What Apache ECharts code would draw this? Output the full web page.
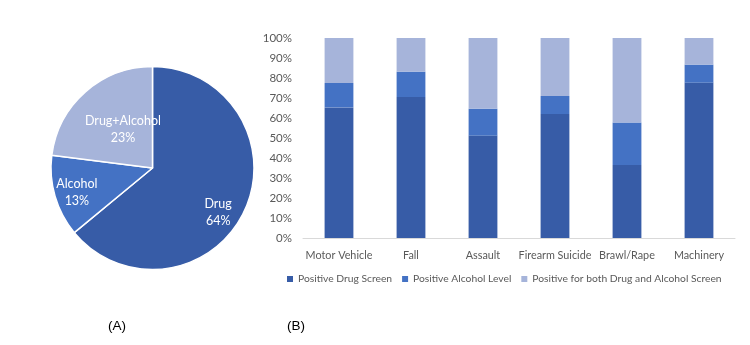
<!DOCTYPE html>
<html><head><meta charset="utf-8">
<script src="https://cdn.jsdelivr.net/npm/echarts@6/dist/echarts.min.js"></script>
<style>html,body{margin:0;padding:0;background:#fff}#c{width:750px;height:345px}</style>
</head><body><div id="c"></div>
<script>
var pieNames = ['Drug', 'Alcohol', 'Drug+Alcohol'];
var pieValues = [64, 13, 23];
var categories = ['Motor Vehicle', 'Fall', 'Assault', 'Firearm Suicide', 'Brawl/Rape', 'Machinery'];
var seriesNames = ['Positive Drug Screen', 'Positive Alcohol Level', 'Positive for both Drug and Alcohol Screen'];
var drugValues = [65.3, 70.5, 51.2, 62.0, 36.5, 77.7];
var alcoholValues = [12.2, 12.7, 13.5, 9.0, 21.3, 9.0];
var bothValues = [22.5, 16.8, 35.3, 29.0, 42.2, 13.3];

var colors = ['#375CA7', '#4472C4', '#A6B4DA'];
var labelOffsets = [[17, 22], [-24, 9], [6, 2]];
var font = 'Lato';

var chart = echarts.init(document.getElementById('c'));
chart.setOption({
  animation: false,
  color: colors,
  title: [
    {text: '(A)', left: 108, top: 319, padding: 0, textStyle: {fontFamily: 'Liberation Sans', fontSize: 13.5, fontWeight: 'normal', color: '#000'}},
    {text: '(B)', left: 287, top: 319, padding: 0, textStyle: {fontFamily: 'Liberation Sans', fontSize: 13.5, fontWeight: 'normal', color: '#000'}}
  ],
  legend: {
    data: seriesNames,
    left: 287, top: 274, width: 460, padding: 0,
    itemWidth: 6, itemHeight: 6, itemGap: 10,
    icon: 'rect',
    textStyle: {fontFamily: font, fontSize: 10.3, color: '#595959'}
  },
  grid: {left: 303, right: 15, top: 38, bottom: 107, containLabel: false},
  xAxis: {
    type: 'category', data: categories,
    axisLine: {lineStyle: {color: '#D9D9D9'}},
    axisTick: {show: false},
    axisLabel: {fontFamily: font, fontSize: 10.8, color: '#595959', margin: 12, interval: 0}
  },
  yAxis: {
    type: 'value', min: 0, max: 100, interval: 10,
    splitLine: {show: false},
    axisLine: {show: false}, axisTick: {show: false},
    axisLabel: {fontFamily: font, fontSize: 11.5, color: '#595959', margin: 11, formatter: function (v) { return v + '%'; }}
  },
  series: [
    {type: 'pie', center: [152.5, 168], radius: 101.5, startAngle: 90, clockwise: true,
     legendHoverLink: false,
     itemStyle: {borderColor: '#fff', borderWidth: 1.5},
     label: {position: 'inside', color: '#fff', fontFamily: font, fontSize: 12.5, lineHeight: 17,
       formatter: function (p) { return p.name + '\n' + p.value + '%'; }},
     labelLayout: function (p) { var o = labelOffsets[p.dataIndex]; return {dx: o[0], dy: o[1]}; },
     data: pieNames.map(function (n, i) { return {name: n, value: pieValues[i], itemStyle: {color: colors[i]}}; })
    },
    {name: seriesNames[0], type: 'bar', stack: 's', barWidth: '40%', itemStyle: {color: colors[0]}, data: drugValues},
    {name: seriesNames[1], type: 'bar', stack: 's', barWidth: '40%', itemStyle: {color: colors[1]}, data: alcoholValues},
    {name: seriesNames[2], type: 'bar', stack: 's', barWidth: '40%', itemStyle: {color: colors[2]}, data: bothValues}
  ]
});
</script></body></html>
